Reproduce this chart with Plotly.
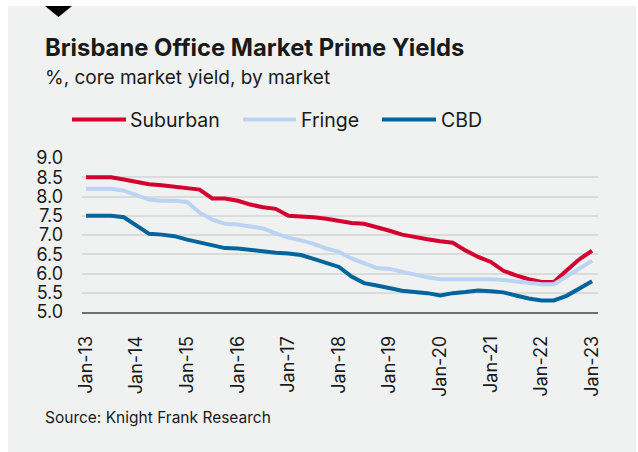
import pandas as pd
import plotly.graph_objects as go

dates = pd.date_range("2013-01-01", periods=41, freq="QS")

suburban = [8.50, 8.50, 8.50, 8.44, 8.37, 8.32, 8.29, 8.26, 8.22, 8.18,
            7.95, 7.95, 7.89, 7.79, 7.72, 7.68, 7.50, 7.49, 7.46, 7.42,
            7.36, 7.31, 7.29, 7.21, 7.11, 7.01, 6.94, 6.89, 6.84, 6.80,
            6.60, 6.43, 6.30, 6.07, 5.95, 5.85, 5.78, 5.78, 6.08, 6.37, 6.59]
fringe = [8.20, 8.20, 8.20, 8.15, 8.04, 7.92, 7.89, 7.89, 7.86, 7.58,
          7.40, 7.29, 7.27, 7.22, 7.17, 7.04, 6.93, 6.86, 6.77, 6.65,
          6.56, 6.39, 6.26, 6.14, 6.12, 6.04, 5.97, 5.90, 5.85, 5.85,
          5.85, 5.87, 5.85, 5.83, 5.80, 5.76, 5.72, 5.72, 5.93, 6.14, 6.33]
cbd = [7.50, 7.50, 7.50, 7.46, 7.25, 7.03, 7.01, 6.97, 6.88, 6.81,
       6.75, 6.66, 6.65, 6.61, 6.57, 6.54, 6.52, 6.48, 6.38, 6.27,
       6.17, 5.92, 5.75, 5.69, 5.62, 5.55, 5.52, 5.49, 5.43, 5.49,
       5.52, 5.56, 5.54, 5.51, 5.43, 5.35, 5.30, 5.30, 5.42, 5.62, 5.80]

series_names = ["Suburban", "Fringe", "CBD"]
series_colors = ["#d4002f", "#bdd3f4", "#00659c"]

tick_dates = [f"{y}-01-01" for y in range(2013, 2024)]
tick_text = [f"Jan-{y % 100:02d}" for y in range(2013, 2024)]
y_ticks = [5.0, 5.5, 6.0, 6.5, 7.0, 7.5, 8.0, 8.5, 9.0]

W, H = 638, 452
L, R, T, B = 82, 40, 158, 140
PW, PH = W - L - R, H - T - B


def px(x):
    return (x - L) / PW


def py(y):
    return (H - B - y) / PH


FONT = "Inter"
TXT = "#1a1a1a"

fig = go.Figure()
for name, vals, col in zip(series_names, [suburban, fringe, cbd], series_colors):
    fig.add_trace(go.Scatter(x=dates, y=vals, mode="lines", name=name,
                             line=dict(color=col, width=4), showlegend=False))

shapes = [
    dict(type="rect", xref="paper", yref="paper", x0=px(8), x1=px(636),
         y0=py(452), y1=py(6), fillcolor="#eff2f1", line=dict(width=0), layer="below"),
    dict(type="path", xref="paper", yref="paper",
         path=f"M {px(45)},{py(6)} L {px(72)},{py(6)} L {px(58.5)},{py(17)} Z",
         fillcolor="#000000", line=dict(width=0), layer="above"),
]
annotations = [
    dict(text="<b>Brisbane Office Market Prime Yields</b>", x=px(43), y=py(47),
         xref="paper", yref="paper", xanchor="left", yanchor="middle", showarrow=False,
         font=dict(family=FONT, size=23.8, color=TXT)),
    dict(text="%, core market yield, by market", x=px(43), y=py(77),
         xref="paper", yref="paper", xanchor="left", yanchor="middle", showarrow=False,
         font=dict(family=FONT, size=19, color=TXT)),
    dict(text="Source: Knight Frank Research", x=px(43), y=py(417),
         xref="paper", yref="paper", xanchor="left", yanchor="middle", showarrow=False,
         font=dict(family=FONT, size=15.5, color=TXT)),
]
leg_x = [(72, 126, 128), (243, 296, 299), (382, 436, 439)]
for (x0, x1, tx), name, col in zip(leg_x, series_names, series_colors):
    shapes.append(dict(type="line", xref="paper", yref="paper", x0=px(x0), x1=px(x1),
                       y0=py(119.5), y1=py(119.5), line=dict(color=col, width=4)))
    annotations.append(dict(text=name, x=px(tx), y=py(119.5), xref="paper", yref="paper",
                            xanchor="left", yanchor="middle", showarrow=False,
                            font=dict(family=FONT, size=19.5, color=TXT)))

fig.update_layout(
    width=W, height=H,
    margin=dict(l=L, r=R, t=T, b=B),
    paper_bgcolor="white",
    plot_bgcolor="rgba(0,0,0,0)",
    shapes=shapes,
    annotations=annotations,
    font=dict(family=FONT, color=TXT),
    xaxis=dict(type="date", range=["2012-12-03", "2023-02-13"],
               tickvals=tick_dates, ticktext=tick_text, tickangle=-90,
               showgrid=False, showline=True, linecolor="#6f6f6f", linewidth=1.5,
               ticks="", ticklabelstandoff=15, tickfont=dict(size=18, color=TXT)),
    yaxis=dict(range=[5, 9], tickvals=y_ticks, tickformat=".1f",
               showgrid=True, gridcolor="#d9dcdb", gridwidth=1.5, zeroline=False,
               ticks="", ticklabelstandoff=18, tickfont=dict(size=18, color=TXT)),
)

fig.write_html("out.html")
